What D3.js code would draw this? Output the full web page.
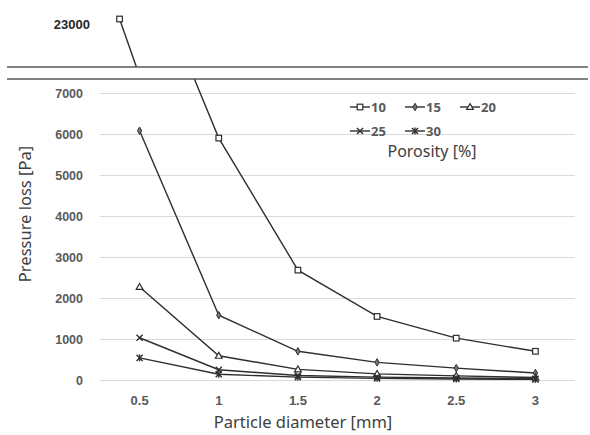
<!DOCTYPE html>
<html>
<head>
<meta charset="utf-8">
<script src="https://cdn.jsdelivr.net/npm/d3@7"></script>
<style>
  body { margin: 0; background: #fff; }
  svg { display: block; font-family: "Noto Sans", "Open Sans", sans-serif; }
</style>
</head>
<body>
<svg id="chart" width="590" height="435"></svg>
<script>
// particle diameter [mm]
var diameters = ["0.5", "1", "1.5", "2", "2.5", "3"];
// porosity [%] series
var porosities = ["10", "15", "20", "25", "30"];
var loss10 = [23000, 5900, 2680, 1550, 1020, 700];
var loss15 = [6080, 1580, 700, 430, 290, 170];
var loss20 = [2270, 590, 260, 150, 100, 60];
var loss25 = [1030, 250, 110, 70, 50, 30];
var loss30 = [540, 140, 70, 40, 25, 15];
var yTicks = [0, 1000, 2000, 3000, 4000, 5000, 6000, 7000];
var topTick = [23000];

var seriesVals = [loss10, loss15, loss20, loss25, loss30];
var markers = ["square", "diamond", "triangle", "cross", "star"];

var svg = d3.select("#chart");
var ink = "#2e2e2e";

// lower panel scales (broken above 7000)
var x = d3.scaleBand().domain(diameters).range([100, 575]);
var y = d3.scaleLinear().domain([0, 7000, 23000]).range([380, 93, -54]);
// upper panel scales
var xTop = d3.scaleBand().domain(diameters).range([80, 555]);
var yTop = d3.scaleLinear().domain([5900, 23000]).range([245, 19]);

var defs = svg.append("defs");
defs.append("clipPath").attr("id", "clipLow")
  .append("rect").attr("x", 0).attr("y", 79).attr("width", 590).attr("height", 356);
defs.append("clipPath").attr("id", "clipTop")
  .append("rect").attr("x", 0).attr("y", 0).attr("width", 590).attr("height", 67);

// gridlines + y ticks
var yAxis = svg.append("g")
  .attr("transform", "translate(100,0)")
  .call(d3.axisLeft(y).tickValues(yTicks).tickSize(-475).tickPadding(17).tickFormat(d3.format("d")));
yAxis.select(".domain").remove();
yAxis.selectAll("line").attr("stroke", "#d9d9d9").attr("stroke-width", 1);
yAxis.selectAll("text").attr("fill", "#595959").style("font-size", "12.5px").style("font-weight", "bold");

var topAxis = svg.append("g")
  .attr("transform", "translate(90,5)")
  .call(d3.axisLeft(yTop).tickValues(topTick).tickSize(0).tickPadding(0).tickFormat(d3.format("d")));
topAxis.select(".domain").remove();
topAxis.selectAll("text").attr("fill", "#262626").style("font-size", "13px").style("font-weight", "bold");

// x ticks
var xAxis = svg.append("g")
  .attr("transform", "translate(0,380)")
  .call(d3.axisBottom(x).tickSize(0).tickPadding(16));
xAxis.select(".domain").remove();
xAxis.selectAll("text").attr("fill", "#595959").style("font-size", "13px").style("font-weight", "bold");

// marker symbols
function drawMarker(g, type, cx, cy) {
  if (type === "square") {
    g.append("rect").attr("x", cx - 2.8).attr("y", cy - 2.8).attr("width", 5.6).attr("height", 5.6)
      .attr("fill", "#fff").attr("stroke", ink).attr("stroke-width", 1.2);
  } else if (type === "diamond") {
    g.append("path").attr("d", d3.symbol(d3.symbolDiamond, 16)())
      .attr("transform", "translate(" + cx + "," + cy + ")")
      .attr("fill", "#777").attr("stroke", ink).attr("stroke-width", 1);
  } else if (type === "triangle") {
    g.append("path").attr("d", d3.symbol(d3.symbolTriangle, 20)())
      .attr("transform", "translate(" + cx + "," + (cy + 0.5) + ")")
      .attr("fill", "#fff").attr("stroke", ink).attr("stroke-width", 1.2);
  } else if (type === "cross") {
    g.append("path").attr("d", d3.symbol(d3.symbolX, 26)())
      .attr("transform", "translate(" + cx + "," + cy + ")")
      .attr("fill", "none").attr("stroke", ink).attr("stroke-width", 1.4);
  } else {
    g.append("path").attr("d", d3.symbol(d3.symbolX, 26)())
      .attr("transform", "translate(" + cx + "," + cy + ")")
      .attr("fill", "none").attr("stroke", ink).attr("stroke-width", 1.4);
    g.append("line").attr("x1", cx).attr("x2", cx).attr("y1", cy - 3.5).attr("y2", cy + 3.5)
      .attr("stroke", ink).attr("stroke-width", 1.4);
  }
}

function drawPanel(xs, ys, clipId) {
  var g = svg.append("g").attr("clip-path", "url(#" + clipId + ")");
  seriesVals.forEach(function(vals) {
    var line = d3.line()
      .x(function(d, i) { return xs(diameters[i]) + xs.bandwidth() / 2; })
      .y(function(d) { return ys(d); });
    g.append("path").datum(vals).attr("d", line)
      .attr("fill", "none").attr("stroke", ink).attr("stroke-width", 1.4);
  });
  seriesVals.forEach(function(vals, si) {
    vals.forEach(function(v, i) {
      drawMarker(g, markers[si], xs(diameters[i]) + xs.bandwidth() / 2, ys(v));
    });
  });
}

drawPanel(x, y, "clipLow");
drawPanel(xTop, yTop, "clipTop");

// axis break lines
[67, 79].forEach(function(yy) {
  svg.append("line").attr("x1", 7).attr("x2", 588).attr("y1", yy).attr("y2", yy)
    .attr("stroke", "#595959").attr("stroke-width", 1.6);
});

// legend
var leg = svg.append("g");
porosities.forEach(function(p, i) {
  var lx = 350 + (i % 3) * 55;
  var ly = 107 + Math.floor(i / 3) * 24;
  leg.append("line").attr("x1", lx).attr("x2", lx + 20).attr("y1", ly).attr("y2", ly)
    .attr("stroke", ink).attr("stroke-width", 1.4);
  drawMarker(leg, markers[i], lx + 10, ly);
  leg.append("text").attr("x", lx + 21).attr("y", ly).attr("dy", "0.35em")
    .attr("fill", "#595959").style("font-size", "13px").style("font-weight", "bold").text(p);
});
leg.append("text").attr("x", 432).attr("y", 157).attr("text-anchor", "middle")
  .attr("fill", "#404040").style("font-size", "16px").text("Porosity [%]");

// axis titles
svg.append("text").attr("x", 303).attr("y", 428).attr("text-anchor", "middle")
  .attr("fill", "#404040").style("font-size", "16.5px").text("Particle diameter [mm]");
svg.append("text").attr("transform", "translate(31,214) rotate(-90)").attr("text-anchor", "middle")
  .attr("fill", "#404040").style("font-size", "16.5px").text("Pressure loss [Pa]");
</script>
</body>
</html>
